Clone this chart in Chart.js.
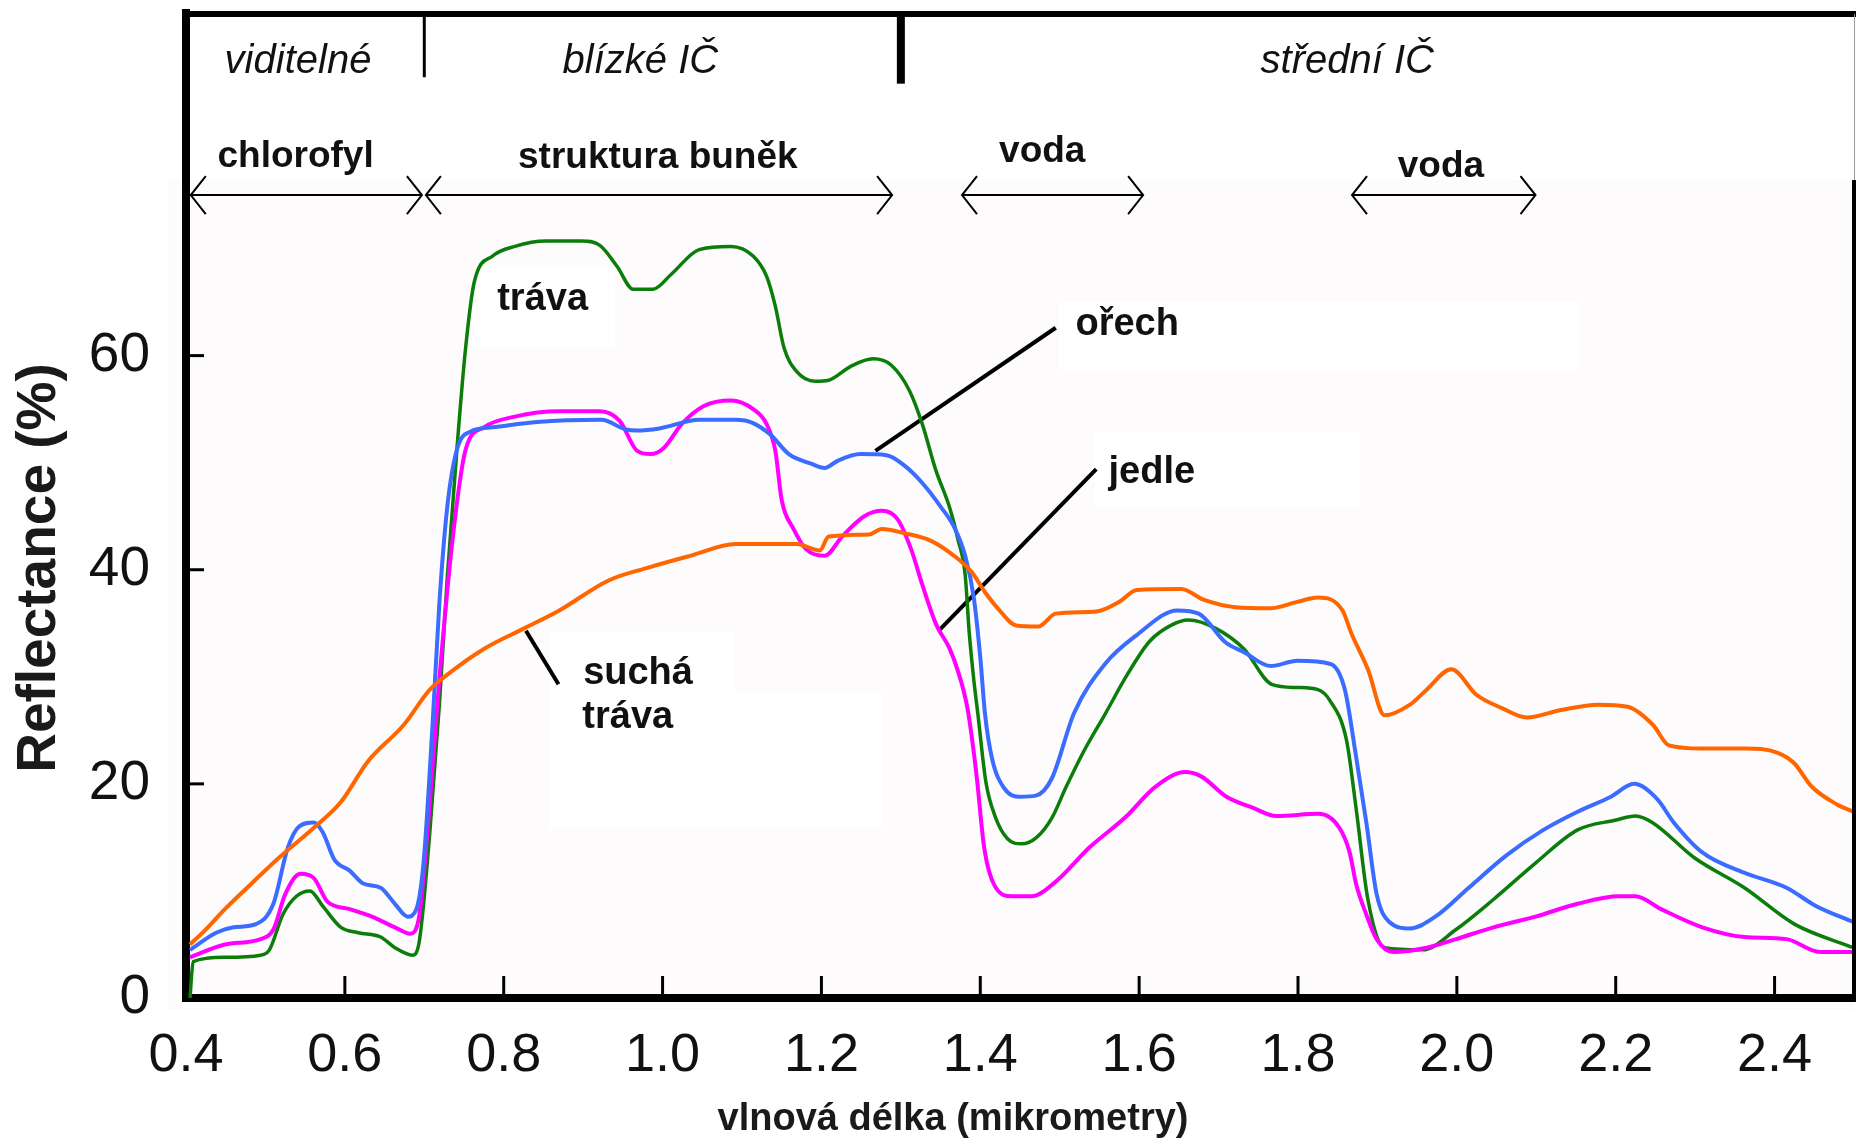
<!DOCTYPE html>
<html lang="cs">
<head>
<meta charset="utf-8">
<title>Spektrální odrazivost</title>
<script src="https://cdn.jsdelivr.net/npm/chart.js@4.4.1/dist/chart.umd.min.js"></script>
<style>
  html, body { margin: 0; padding: 0; background: #fff; }
  #wrap { width: 1856px; height: 1145px; }
</style>
</head>
<body>
<div id="wrap"><canvas id="reflectanceChart"></canvas></div>
<script>
// wavelength (µm) and reflectance (%)
const wlTrava = [0.405, 0.409, 0.449, 0.494, 0.505, 0.522, 0.539, 0.556, 0.572, 0.595, 0.617, 0.645, 0.663, 0.685, 0.693, 0.707, 0.719, 0.729, 0.741, 0.752, 0.763, 0.786, 0.814, 0.853, 0.898, 0.921, 0.943, 0.963, 0.988, 1.011, 1.046, 1.086, 1.114, 1.131, 1.142, 1.153, 1.169, 1.192, 1.209, 1.237, 1.265, 1.288, 1.311, 1.327, 1.344, 1.361, 1.372, 1.381, 1.386, 1.392, 1.397, 1.407, 1.419, 1.434, 1.452, 1.471, 1.490, 1.508, 1.530, 1.557, 1.585, 1.613, 1.640, 1.662, 1.697, 1.732, 1.767, 1.799, 1.825, 1.840, 1.861, 1.873, 1.888, 1.909, 1.957, 1.999, 2.046, 2.099, 2.152, 2.199, 2.225, 2.246, 2.299, 2.362, 2.425, 2.499];
const reflTrava = [0.0, 3.4, 3.8, 4.0, 4.5, 7.8, 9.5, 10.0, 8.6, 6.6, 6.1, 5.7, 4.7, 4.0, 5.0, 15.5, 27.4, 39.3, 51.2, 60.7, 66.9, 69.3, 70.2, 70.7, 70.7, 70.3, 68.3, 66.2, 66.2, 67.6, 69.9, 70.2, 69.3, 67.4, 64.6, 60.7, 58.5, 57.6, 57.7, 59.0, 59.7, 59.1, 56.7, 53.6, 49.3, 45.9, 42.8, 39.5, 34.2, 29.6, 26.5, 20.2, 16.9, 14.9, 14.4, 15.0, 16.8, 19.7, 23.0, 26.5, 30.2, 33.3, 34.8, 35.3, 34.5, 32.6, 29.3, 29.0, 28.8, 27.8, 24.1, 17.8, 9.2, 4.7, 4.5, 6.4, 9.2, 12.6, 15.7, 16.6, 17.0, 16.4, 13.1, 10.3, 6.9, 4.7];

const wlOrech = [0.405, 0.438, 0.460, 0.488, 0.510, 0.528, 0.542, 0.561, 0.572, 0.587, 0.606, 0.623, 0.645, 0.663, 0.679, 0.690, 0.699, 0.710, 0.719, 0.729, 0.741, 0.758, 0.786, 0.842, 0.923, 0.954, 0.968, 0.996, 1.046, 1.092, 1.114, 1.136, 1.159, 1.187, 1.204, 1.221, 1.249, 1.282, 1.305, 1.327, 1.350, 1.367, 1.381, 1.392, 1.400, 1.406, 1.415, 1.430, 1.450, 1.470, 1.490, 1.518, 1.557, 1.597, 1.648, 1.675, 1.709, 1.732, 1.766, 1.799, 1.841, 1.859, 1.873, 1.886, 1.899, 1.915, 1.941, 1.973, 2.015, 2.062, 2.109, 2.152, 2.194, 2.223, 2.252, 2.273, 2.309, 2.362, 2.415, 2.452, 2.499];
const reflOrech = [4.5, 6.1, 6.6, 6.9, 8.8, 14.0, 16.0, 16.4, 15.5, 12.9, 11.9, 10.7, 10.3, 8.8, 7.6, 8.3, 12.6, 25.0, 36.9, 45.9, 51.2, 52.9, 53.3, 53.8, 54.0, 53.1, 53.0, 53.2, 54.0, 54.0, 53.7, 52.6, 50.8, 49.9, 49.5, 50.2, 50.8, 50.7, 49.7, 48.1, 45.9, 44.0, 41.3, 37.3, 31.8, 26.5, 22.3, 19.6, 18.8, 18.9, 20.5, 26.6, 31.2, 33.9, 36.2, 35.9, 33.2, 32.3, 31.0, 31.5, 31.2, 28.8, 22.6, 16.4, 9.7, 7.1, 6.5, 7.6, 10.3, 13.3, 15.7, 17.4, 18.8, 20.0, 18.6, 16.4, 13.6, 11.7, 10.3, 8.6, 7.1];

const wlJedle = [0.405, 0.449, 0.494, 0.510, 0.525, 0.544, 0.561, 0.578, 0.606, 0.634, 0.663, 0.682, 0.693, 0.704, 0.719, 0.736, 0.752, 0.775, 0.814, 0.870, 0.921, 0.946, 0.968, 0.985, 1.002, 1.024, 1.052, 1.086, 1.114, 1.131, 1.142, 1.150, 1.165, 1.181, 1.204, 1.226, 1.254, 1.276, 1.296, 1.313, 1.327, 1.345, 1.361, 1.372, 1.384, 1.395, 1.405, 1.418, 1.440, 1.465, 1.494, 1.538, 1.583, 1.620, 1.658, 1.678, 1.710, 1.742, 1.773, 1.826, 1.852, 1.865, 1.873, 1.886, 1.899, 1.920, 1.962, 1.999, 2.046, 2.099, 2.152, 2.204, 2.225, 2.257, 2.309, 2.362, 2.415, 2.457, 2.499];
const reflJedle = [3.8, 5.0, 5.5, 6.4, 9.7, 11.6, 11.2, 9.0, 8.3, 7.6, 6.6, 6.0, 7.4, 15.5, 29.8, 43.1, 51.2, 53.3, 54.3, 54.8, 54.8, 53.9, 51.1, 50.8, 51.4, 53.6, 55.3, 55.8, 55.0, 53.6, 51.1, 46.5, 43.8, 41.9, 41.3, 43.1, 45.0, 45.5, 44.7, 41.9, 38.6, 34.8, 32.7, 30.5, 27.0, 21.0, 14.0, 10.5, 9.5, 9.5, 10.8, 14.1, 16.9, 19.7, 21.1, 20.7, 18.8, 17.8, 17.0, 17.2, 15.9, 13.6, 10.7, 7.8, 5.5, 4.3, 4.7, 5.5, 6.6, 7.6, 8.8, 9.5, 9.5, 8.3, 6.6, 5.7, 5.5, 4.3, 4.3];

const wlSucha = [0.405, 0.421, 0.449, 0.477, 0.517, 0.561, 0.595, 0.629, 0.674, 0.707, 0.729, 0.775, 0.825, 0.870, 0.932, 0.982, 1.035, 1.092, 1.169, 1.198, 1.209, 1.260, 1.276, 1.305, 1.338, 1.367, 1.389, 1.406, 1.422, 1.445, 1.473, 1.495, 1.546, 1.575, 1.597, 1.653, 1.681, 1.721, 1.765, 1.799, 1.825, 1.856, 1.867, 1.888, 1.909, 1.941, 1.962, 1.993, 2.025, 2.056, 2.088, 2.131, 2.178, 2.215, 2.247, 2.267, 2.309, 2.362, 2.404, 2.425, 2.446, 2.478, 2.499];
const reflSucha = [5.0, 6.1, 8.3, 10.3, 13.1, 15.9, 18.3, 22.1, 25.5, 28.8, 30.2, 32.6, 34.5, 36.2, 39.0, 40.2, 41.3, 42.4, 42.4, 41.8, 43.1, 43.3, 43.8, 43.4, 42.7, 41.3, 39.8, 37.9, 36.4, 34.8, 34.7, 35.9, 36.1, 37.0, 38.1, 38.2, 37.2, 36.5, 36.4, 37.0, 37.4, 36.2, 34.1, 30.7, 26.4, 27.4, 28.8, 30.7, 28.3, 27.1, 26.2, 26.9, 27.4, 27.2, 25.5, 23.6, 23.3, 23.3, 22.9, 21.9, 19.8, 18.1, 17.4];

// leader lines from the labels to the curves
const leaderOrechX = [1.495, 1.268];
const leaderOrechY = [62.6, 51.1];
const leaderJedleX = [1.546, 1.349];
const leaderJedleY = [49.4, 34.4];
const leaderSuchaX = [0.828, 0.869];
const leaderSuchaY = [34.3, 29.3];

// axis ticks
const xTickValues = [0.4, 0.6, 0.8, 1.0, 1.2, 1.4, 1.6, 1.8, 2.0, 2.2, 2.4];
const yTickValues = [0, 20, 40, 60];

// spectral regions (header) and absorption arrows
const regionNames = ["viditelné", "blízké IČ", "střední IČ"];
const regionCenters = [0.541, 0.972, 1.862];
const regionDividers = [0.7, 1.3];
const arrowNames = ["chlorofyl", "struktura buněk", "voda", "voda"];
const arrowFrom = [0.406, 0.702, 1.377, 1.868];
const arrowTo = [0.697, 1.289, 1.605, 2.099];

const FONT = "'Liberation Sans', Arial, sans-serif";

function toPoints(xs, ys) {
  return xs.map((x, i) => ({ x: x, y: ys[i] }));
}

function curve(label, xs, ys, color, width) {
  return {
    label: label,
    data: toPoints(xs, ys),
    borderColor: color,
    backgroundColor: color,
    borderWidth: width,
    pointRadius: 0,
    fill: false,
    cubicInterpolationMode: "monotone"
  };
}

function leader(xs, ys) {
  return {
    label: "",
    data: toPoints(xs, ys),
    borderColor: "#000",
    borderWidth: 4,
    pointRadius: 0,
    fill: false,
    tension: 0
  };
}

// draws background, frame, header, arrows and text labels
const decorPlugin = {
  id: "decor",
  beforeDraw(chart) {
    const ctx = chart.ctx;
    const a = chart.chartArea;
    const sx = chart.scales.x, sy = chart.scales.y;
    const pinkTop = sy.getPixelForValue(76.4);
    ctx.save();
    ctx.fillStyle = "#fefbfc";
    ctx.fillRect(a.left - 18, pinkTop, a.right - a.left + 18, a.bottom - pinkTop + 12);
    // white boxes behind the curve labels
    ctx.fillStyle = "#ffffff";
    const boxes = [
      [0.761, 0.940, 68.4, 60.6],
      [1.499, 2.155, 65.0, 58.7],
      [1.544, 1.879, 52.9, 45.7],
      [0.858, 1.090, 34.1, 28.6],
      [0.858, 1.276, 28.6, 15.8]
    ];
    boxes.forEach(b => {
      const x0 = sx.getPixelForValue(b[0]), x1 = sx.getPixelForValue(b[1]);
      const y0 = sy.getPixelForValue(b[2]), y1 = sy.getPixelForValue(b[3]);
      ctx.fillRect(x0, y0, x1 - x0, y1 - y0);
    });
    ctx.restore();
  },
  afterDatasetsDraw(chart) {
    const ctx = chart.ctx;
    const a = chart.chartArea;
    const sx = chart.scales.x, sy = chart.scales.y;
    ctx.save();

    // frame: top and right
    ctx.strokeStyle = "#000";
    ctx.lineWidth = 6;
    ctx.beginPath();
    ctx.moveTo(a.left - 4, 14);
    ctx.lineTo(1856, 14);
    ctx.stroke();
    const pinkTop = sy.getPixelForValue(76.4);
    ctx.lineWidth = 4;
    ctx.beginPath();
    ctx.moveTo(a.right, pinkTop);
    ctx.lineTo(a.right, a.bottom + 4);
    ctx.stroke();
    ctx.strokeStyle = "#999";
    ctx.lineWidth = 1;
    ctx.beginPath();
    ctx.moveTo(a.right + 0.5, 14);
    ctx.lineTo(a.right + 0.5, pinkTop);
    ctx.stroke();

    // header dividers
    ctx.strokeStyle = "#000";
    [[regionDividers[0], 86.0, 3], [regionDividers[1], 85.4, 8]].forEach(d => {
      const x = sx.getPixelForValue(d[0]);
      ctx.lineWidth = d[2];
      ctx.beginPath();
      ctx.moveTo(x, 14);
      ctx.lineTo(x, sy.getPixelForValue(d[1]));
      ctx.stroke();
    });

    // inward tick marks
    ctx.lineWidth = 3;
    xTickValues.slice(1).forEach(v => {
      const x = sx.getPixelForValue(v);
      ctx.beginPath();
      ctx.moveTo(x, a.bottom - 4);
      ctx.lineTo(x, a.bottom - 22);
      ctx.stroke();
    });
    yTickValues.slice(1).forEach(v => {
      const y = sy.getPixelForValue(v);
      ctx.beginPath();
      ctx.moveTo(a.left + 4, y);
      ctx.lineTo(a.left + 18, y);
      ctx.stroke();
    });

    // double arrows
    const ay = sy.getPixelForValue(75.0);
    ctx.lineWidth = 2;
    arrowFrom.forEach((from, i) => {
      const x0 = sx.getPixelForValue(from), x1 = sx.getPixelForValue(arrowTo[i]);
      ctx.beginPath();
      ctx.moveTo(x0, ay);
      ctx.lineTo(x1, ay);
      ctx.moveTo(x0 + 15, ay - 19);
      ctx.lineTo(x0, ay);
      ctx.lineTo(x0 + 15, ay + 19);
      ctx.moveTo(x1 - 15, ay - 19);
      ctx.lineTo(x1, ay);
      ctx.lineTo(x1 - 15, ay + 19);
      ctx.stroke();
    });

    // text
    ctx.fillStyle = "#111";
    ctx.textBaseline = "alphabetic";
    ctx.textAlign = "center";
    ctx.font = "italic 40px " + FONT;
    regionNames.forEach((t, i) => {
      ctx.fillText(t, sx.getPixelForValue(regionCenters[i]), sy.getPixelForValue(86.4));
    });

    ctx.font = "bold 37px " + FONT;
    const arrowLabelX = [0.538, 0.994, 1.478, 1.980];
    const arrowLabelY = [77.6, 77.5, 78.1, 76.7];
    arrowNames.forEach((t, i) => {
      ctx.fillText(t, sx.getPixelForValue(arrowLabelX[i]), sy.getPixelForValue(arrowLabelY[i]));
    });

    ctx.font = "bold 38px " + FONT;
    ctx.fillText("tráva", sx.getPixelForValue(0.849), sy.getPixelForValue(64.3));
    ctx.fillText("ořech", sx.getPixelForValue(1.585), sy.getPixelForValue(61.9));
    ctx.fillText("jedle", sx.getPixelForValue(1.616), sy.getPixelForValue(48.1));
    ctx.textAlign = "left";
    ctx.fillText("suchá", sx.getPixelForValue(0.900), sy.getPixelForValue(29.3));
    ctx.fillText("tráva", sx.getPixelForValue(0.899), sy.getPixelForValue(25.2));

    // axis titles
    ctx.fillStyle = "#1a1a1a";
    ctx.textAlign = "center";
    ctx.textBaseline = "middle";
    ctx.font = "bold 38px " + FONT;
    ctx.fillText("vlnová délka (mikrometry)", 953, 1120);
    ctx.translate(40, 568);
    ctx.rotate(-Math.PI / 2);
    ctx.font = "bold 55px " + FONT;
    ctx.fillText("Reflectance (%)", 0, 0);
    ctx.restore();
  }
};

const ctx = document.getElementById("reflectanceChart").getContext("2d");

new Chart(ctx, {
  type: "line",
  data: {
    datasets: [
      curve("suchá tráva", wlSucha, reflSucha, "#ff6600", 4),
      curve("ořech", wlOrech, reflOrech, "#3a6cff", 4),
      curve("jedle", wlJedle, reflJedle, "#ff00ff", 4),
      curve("tráva", wlTrava, reflTrava, "#0a7d0a", 3.5),
      leader(leaderOrechX, leaderOrechY),
      leader(leaderJedleX, leaderJedleY),
      leader(leaderSuchaX, leaderSuchaY)
    ]
  },
  options: {
    responsive: true,
    maintainAspectRatio: false,
    animation: false,
    devicePixelRatio: 1,
    layout: { padding: { left: 0, right: 2, top: 13, bottom: 0 } },
    plugins: {
      legend: { display: false },
      tooltip: { enabled: false },
      title: { display: false }
    },
    scales: {
      x: {
        type: "linear",
        min: 0.4,
        max: 2.5,
        afterBuildTicks: scale => { scale.ticks = xTickValues.map(v => ({ value: v })); },
        afterFit: scale => {
          scale.height = 147;
          scale.paddingLeft = 0;
          scale.paddingRight = 0;
        },
        grid: { display: false, drawTicks: false },
        border: { display: true, width: 8, color: "#000" },
        ticks: {
          padding: 26,
          color: "#111",
          font: { family: FONT, size: 54 },
          maxRotation: 0,
          autoSkip: false,
          callback: v => v.toFixed(1)
        }
      },
      y: {
        type: "linear",
        min: 0,
        max: 92,
        afterBuildTicks: scale => { scale.ticks = yTickValues.map(v => ({ value: v })); },
        afterFit: scale => {
          scale.width = 186;
          scale.paddingTop = 0;
          scale.paddingBottom = 0;
        },
        grid: { display: false, drawTicks: false },
        border: { display: true, width: 8, color: "#000" },
        ticks: {
          padding: 36,
          color: "#111",
          font: { family: FONT, size: 55 },
          callback: v => String(v)
        }
      }
    }
  },
  plugins: [decorPlugin]
});
</script>
</body>
</html>
